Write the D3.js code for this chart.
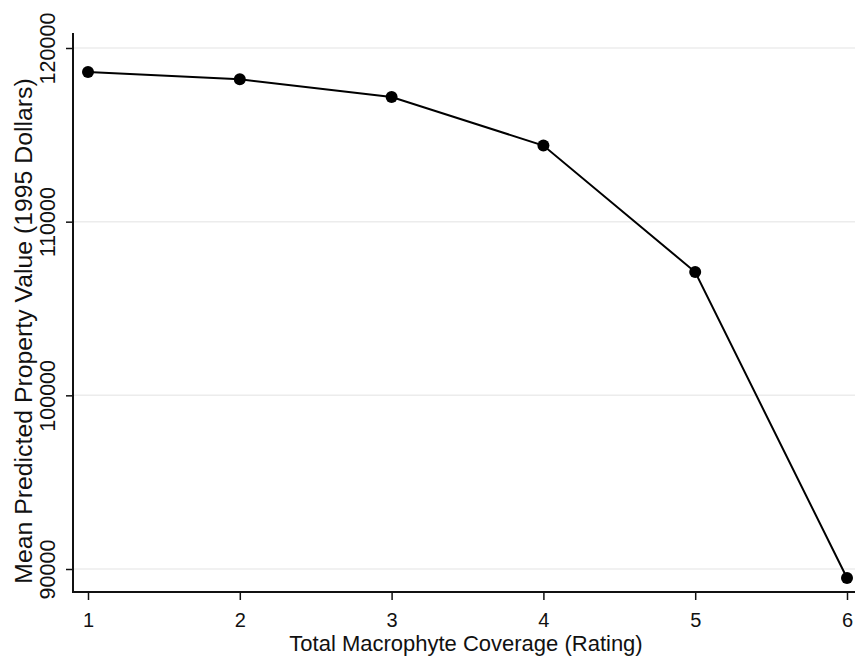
<!DOCTYPE html>
<html>
<head>
<meta charset="utf-8">
<script src="https://cdn.jsdelivr.net/npm/d3@7"></script>
<style>
  html, body { margin: 0; padding: 0; background: #fff; }
  svg { display: block; }
  text { font-family: "Liberation Sans", Arial, sans-serif; fill: #111; }
</style>
</head>
<body>
<svg id="chart" width="855" height="656"></svg>
<script>
const ratings = [1, 2, 3, 4, 5, 6];
const meanValues = [118620, 118200, 117180, 114380, 107100, 89480];
const yTicks = [90000, 100000, 110000, 120000];
const xTicks = [1, 2, 3, 4, 5, 6];
const xTitle = "Total Macrophyte Coverage (Rating)";
const yTitle = "Mean Predicted Property Value (1995 Dollars)";

const data = ratings.map((r, i) => ({ x: r, y: meanValues[i] }));

const svg = d3.select("#chart");
const W = 855, H = 656;
const axisX = 73, axisY = 592, axisTop = 33;

const x = d3.scaleLinear().domain([1, 6]).range([88, 847]);
const y = d3.scaleLinear().domain([90000, 120000]).range([569, 48]);

// gridlines
svg.append("g").selectAll("line").data(yTicks).join("line")
  .attr("x1", axisX).attr("x2", W)
  .attr("y1", d => y(d)).attr("y2", d => y(d))
  .attr("stroke", "#ececec").attr("stroke-width", 1.5);

// y axis
const yAxis = svg.append("g").attr("transform", `translate(${axisX},0)`)
  .call(d3.axisLeft(y).tickValues(yTicks).tickSize(7).tickFormat(d3.format("d")));
yAxis.select(".domain").remove();
yAxis.selectAll(".tick line").attr("stroke", "#111").attr("stroke-width", 1.5);
yAxis.selectAll(".tick text")
  .attr("x", 0).attr("y", 0).attr("dy", 0).attr("dx", null)
  .attr("text-anchor", "middle")
  .attr("transform", "translate(-18,0) rotate(-90)")
  .style("font-size", "21.5px")
  .attr("fill", "#111");
svg.append("line").attr("x1", axisX).attr("x2", axisX)
  .attr("y1", axisTop).attr("y2", axisY + 1)
  .attr("stroke", "#111").attr("stroke-width", 2);

// x axis
const xAxis = svg.append("g").attr("transform", `translate(0,${axisY})`)
  .call(d3.axisBottom(x).tickValues(xTicks).tickSize(8).tickFormat(d3.format("d")));
xAxis.select(".domain").remove();
xAxis.selectAll(".tick line").attr("stroke", "#111").attr("stroke-width", 1.5);
xAxis.selectAll(".tick text")
  .attr("y", 35).attr("dy", 0)
  .style("font-size", "20px").attr("fill", "#111");
svg.append("line").attr("x1", axisX - 1).attr("x2", W)
  .attr("y1", axisY).attr("y2", axisY)
  .attr("stroke", "#111").attr("stroke-width", 2);

// line
svg.append("path").datum(data)
  .attr("fill", "none").attr("stroke", "#000").attr("stroke-width", 2)
  .attr("d", d3.line().x(d => x(d.x)).y(d => y(d.y)));

// points
svg.append("g").selectAll("circle").data(data).join("circle")
  .attr("cx", d => x(d.x)).attr("cy", d => y(d.y)).attr("r", 6)
  .attr("fill", "#000");

// titles
svg.append("text").attr("x", 466).attr("y", 651)
  .attr("text-anchor", "middle").style("font-size", "22px").text(xTitle);
svg.append("text").attr("transform", "translate(32,331) rotate(-90)")
  .attr("text-anchor", "middle").style("font-size", "24.8px").text(yTitle);
</script>
</body>
</html>
